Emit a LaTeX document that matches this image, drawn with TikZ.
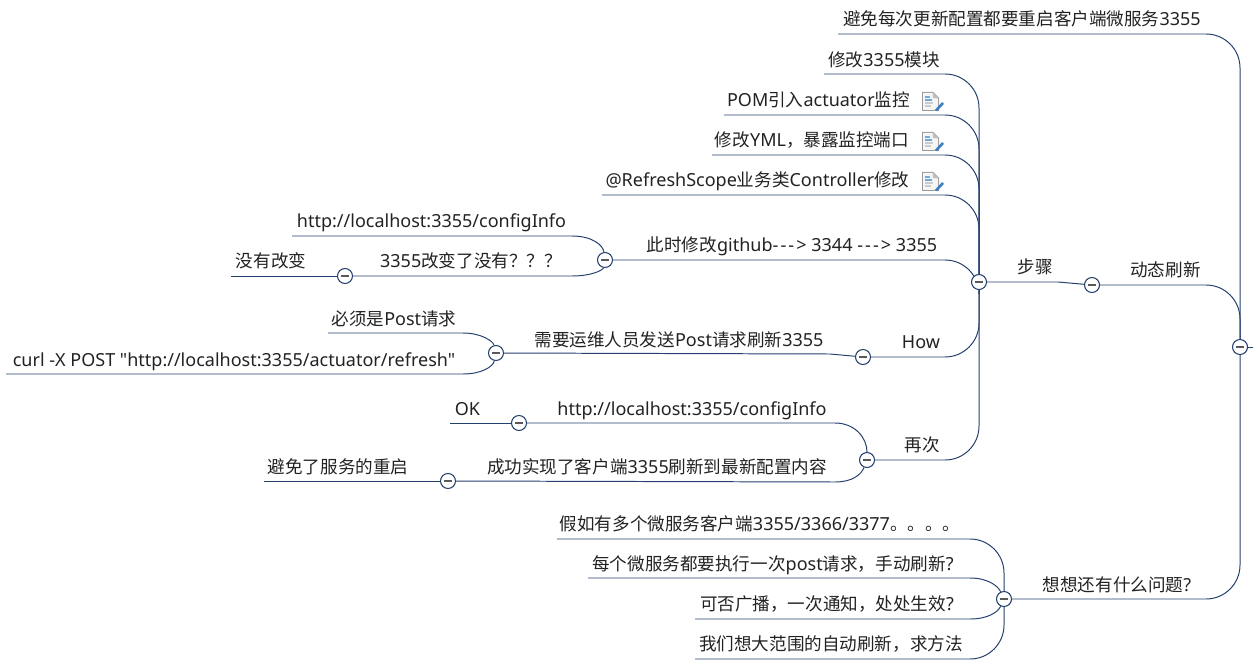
\documentclass[tikz,border=0pt]{standalone}
\usepackage{fontspec}
\usetikzlibrary{backgrounds}
\setmainfont{Noto Sans}[Ligatures=TeXOff,Scale=1.025]
\newfontfamily\cjk{Noto Sans CJK SC}
\newcommand{\zh}[1]{{\cjk #1}}
\newcommand{\dashes}{-\kern1.2pt-\kern1.2pt-\kern1.2pt>}
\definecolor{linecol}{HTML}{24406E}
\definecolor{textcol}{HTML}{222222}
\definecolor{notelines}{HTML}{6FA8DC}
\definecolor{notepen}{HTML}{3C7FC4}
\tikzset{
    topic/.style={anchor=base,inner sep=0pt,text=textcol,font=\fontsize{10}{12}\selectfont},
    branch/.style={draw=linecol,line width=.56pt},
    curved/.style={branch,rounded corners=.68cm},
    fold/.style={circle,draw=linecol,line width=.6pt,fill=white,minimum size=.3cm,inner sep=0pt,
        path picture={\draw[line width=.8pt,black!65] (-4,0)--(4,0);}},
    noteicon/.pic={
        \fill[black!40] (-9,-10)--(2,-10)--(8,-4)--(8,9)--(-9,9)--cycle;
        \fill[black!4] (-8,-9)--(1.5,-9)--(7,-3.5)--(7,8)--(-8,8)--cycle;
        \fill[black!25] (1.5,-9.5)--(2,-4)--(7.5,-3.5)--cycle;
        \draw[notelines,line width=.7pt] (-6,-5)--(-1,-5) (-6,-2)--(1,-2);
        \draw[black!20,line width=.7pt] (-6,1)--(2,1) (-6,4)--(0,4);
        \draw[notepen,line width=1.5pt] (12,1)--(5,8.5);
    }
}
\begin{document}
\begin{tikzpicture}[x=.02cm,y=-.02cm]
    \useasboundingbox (0,0) rectangle (1253,672);
    % fold marks
    \node[fold] (root) at (1240,347){};
    \node[fold] (refresh) at (1092,285){};
    \node[fold] (steps) at (979,282){};
    \node[fold] (github) at (605,260){};
    \node[fold] (changed) at (345,276){};
    \node[fold] (how) at (863,357){};
    \node[fold] (ops) at (496,353){};
    \node[fold] (again) at (867,460){};
    \node[fold] (url) at (519,423){};
    \node[fold] (done) at (448,481){};
    \node[fold] (think) at (1004,599){};
    % free ends
    \coordinate (rootEnd) at (1253,347);
    \coordinate (avoidEnd) at (838,34);
    \coordinate (moduleEnd) at (824,74);
    \coordinate (pomEnd) at (724,115);
    \coordinate (ymlEnd) at (712,155);
    \coordinate (scopeEnd) at (602,195);
    \coordinate (infoEnd) at (292,236);
    \coordinate (noneEnd) at (231,276);
    \coordinate (postEnd) at (328,333);
    \coordinate (curlEnd) at (6,374);
    \coordinate (okEnd) at (450,423);
    \coordinate (savedEnd) at (264,481);
    \coordinate (manyEnd) at (557,539);
    \coordinate (eachEnd) at (588,578);
    \coordinate (castEnd) at (695,619);
    \coordinate (wideEnd) at (695,659);
    % texts
    \node[topic] (avoid) at (1022,26){\zh{避免每次更新配置都要重启客户端微服务}3355};
    \node[topic] (module) at (884,67){\zh{修改}3355\zh{模块}};
    \node[topic] (pom) at (818.5,107){POM\zh{引入}actuator\zh{监控}};
    \node[topic] (yml) at (812,147){\zh{修改}YML\zh{，暴露监控端口}};
    \node[topic] (scope) at (757.5,187){@RefreshScope\zh{业务类}Controller\zh{修改}};
    \node[topic] (githubT) at (792,251){\zh{此时修改}github\dashes{} 3344 \dashes{} 3355};
    \node[topic] (info) at (431.5,227){http://localhost:3355/configInfo};
    \node[topic] (changedT) at (471,267){3355\zh{改变了没有？？？}};
    \node[topic] (none) at (271,267){\zh{没有改变}};
    \node[topic] (post) at (394,325){\zh{必须是}Post\zh{请求}};
    \node[topic] (curl) at (234,366){curl -X POST "http://localhost:3355/actuator/refresh"};
    \node[topic] (opsT) at (679,346){\zh{需要运维人员发送}Post\zh{请求刷新}3355};
    \node[topic] (howT) at (921,348){How};
    \node[topic] (ok) at (467.5,415){OK};
    \node[topic] (urlT) at (692,415){http://localhost:3355/configInfo};
    \node[topic] (doneT) at (657,473){\zh{成功实现了客户端}3355\zh{刷新到最新配置内容}};
    \node[topic] (saved) at (338,473){\zh{避免了服务的重启}};
    \node[topic] (againT) at (922,451){\zh{再次}};
    \node[topic] (stepsT) at (1035,273){\zh{步骤}};
    \node[topic] (refreshT) at (1165.5,276){\zh{动态刷新}};
    \node[topic] (thinkT) at (1117,591){\zh{想想还有什么问题}?};
    \node[topic] (many) at (760,530){\zh{假如有多个微服务客户端}3355/3366/3377\zh{。。。。}};
    \node[topic] (each) at (773,570){\zh{每个微服务都要执行一次}post\zh{请求，手动刷新}?};
    \node[topic] (cast) at (827,610){\zh{可否广播，一次通知，处处生效}?};
    \node[topic] (wide) at (831,650){\zh{我们想大范围的自动刷新，求方法}};
    % note icons
    \pic at (931,102) {noteicon};
    \pic at (931,142) {noteicon};
    \pic at (931,182) {noteicon};
    \begin{scope}[on background layer]
        % root
        \draw[branch] (root)--(rootEnd);
        \draw[curved] (avoidEnd) -| (root);
        \draw[curved] (refresh) -| (root);
        \draw[curved] (think) -| (root);
        % steps
        \draw[branch] (steps)--(1058,282)--(refresh);
        \draw[curved] (moduleEnd) -| (steps);
        \draw[curved] (pomEnd) -| (steps);
        \draw[curved] (ymlEnd) -| (steps);
        \draw[curved] (scopeEnd) -| (steps);
        \draw[curved] (github) -| (steps);
        \draw[curved] (how) -| (steps);
        \draw[curved] (again) -| (steps);
        % github
        \draw[branch] (infoEnd)--(572,236) .. controls (592,236) and (603,245) .. (github);
        \draw[branch] (changed)--(572,276) .. controls (592,276) and (603,270) .. (github);
        \draw[branch] (noneEnd)--(changed);
        % how
        \draw[branch] (ops)--(830,354)--(how);
        \draw[branch] (postEnd)--(463,333) .. controls (481,333) and (493,341) .. (ops);
        \draw[branch] (curlEnd)--(463,374) .. controls (481,374) and (493,367) .. (ops);
        % again
        \draw[branch] (url)--(835,423) .. controls (855,423) and (867,438) .. (again);
        \draw[branch] (done)--(835,482) .. controls (852,482) and (861,475) .. (again);
        \draw[branch] (okEnd)--(url);
        \draw[branch] (savedEnd)--(done);
        % think
        \draw[curved] (manyEnd) -| (think);
        \draw[branch] (eachEnd)--(970,578) .. controls (988,578) and (998,586) .. (think);
        \draw[branch] (castEnd)--(970,619) .. controls (988,619) and (998,612) .. (think);
        \draw[curved] (wideEnd) -| (think);
    \end{scope}
\end{tikzpicture}
\end{document}
